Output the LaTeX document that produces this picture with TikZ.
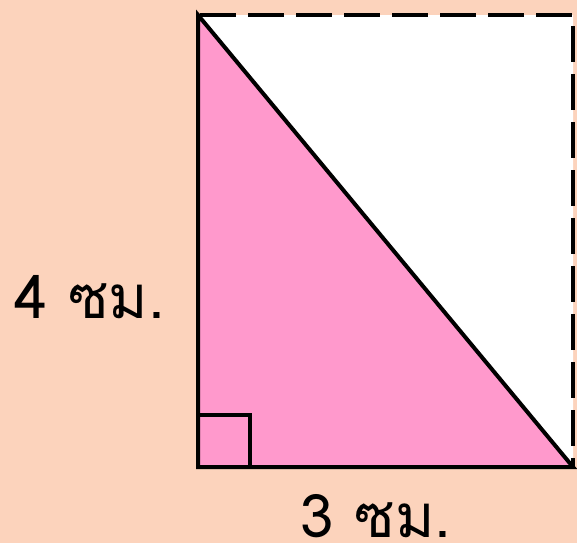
\documentclass[tikz,border=0pt]{standalone}
\usepackage{fontspec}
\usetikzlibrary{calc}
\newfontfamily\thaifont[Script=Thai]{Loma}
\definecolor{peach}{RGB}{252,211,188}
\definecolor{tripink}{RGB}{255,153,204}

\begin{document}
\begin{tikzpicture}[x=0.5pt, y=-0.5pt, line cap=butt, line join=miter]

    % Fondo
    \fill[peach] (0,0) rectangle (577,543);
    \useasboundingbox (0,0) rectangle (577,543);

    % Vértices del rectángulo
    \coordinate (A) at (198,15);
    \coordinate (B) at (198,467);
    \coordinate (C) at (573,467);
    \coordinate (D) at (573,15);

    % Rectángulo y triángulo
    \fill[white] (A) -- (D) -- (C) -- cycle;
    \fill[tripink] (A) -- (B) -- (C) -- cycle;

    % Lados punteados
    \draw[line width=2pt, dash pattern=on 18pt off 6pt] ($(A)+(2,0)$) -- (D) -- (C);

    % Triángulo
    \draw[line width=2pt] (A) -- (B) -- (C) -- cycle;

    % Ángulo recto
    \draw[line width=2pt] ($(B)+(0,-52)$) -- ($(B)+(52,-52)$) -- ($(B)+(52,0)$);

    % Etiquetas
    \node[inner sep=0pt, font=\thaifont\fontsize{30}{35}\selectfont] (altura) at (90,297) {4 ซม.};
    \node[inner sep=0pt, font=\thaifont\fontsize{30}{35}\selectfont] (base) at (376,516) {3 ซม.};

\end{tikzpicture}
\end{document}
